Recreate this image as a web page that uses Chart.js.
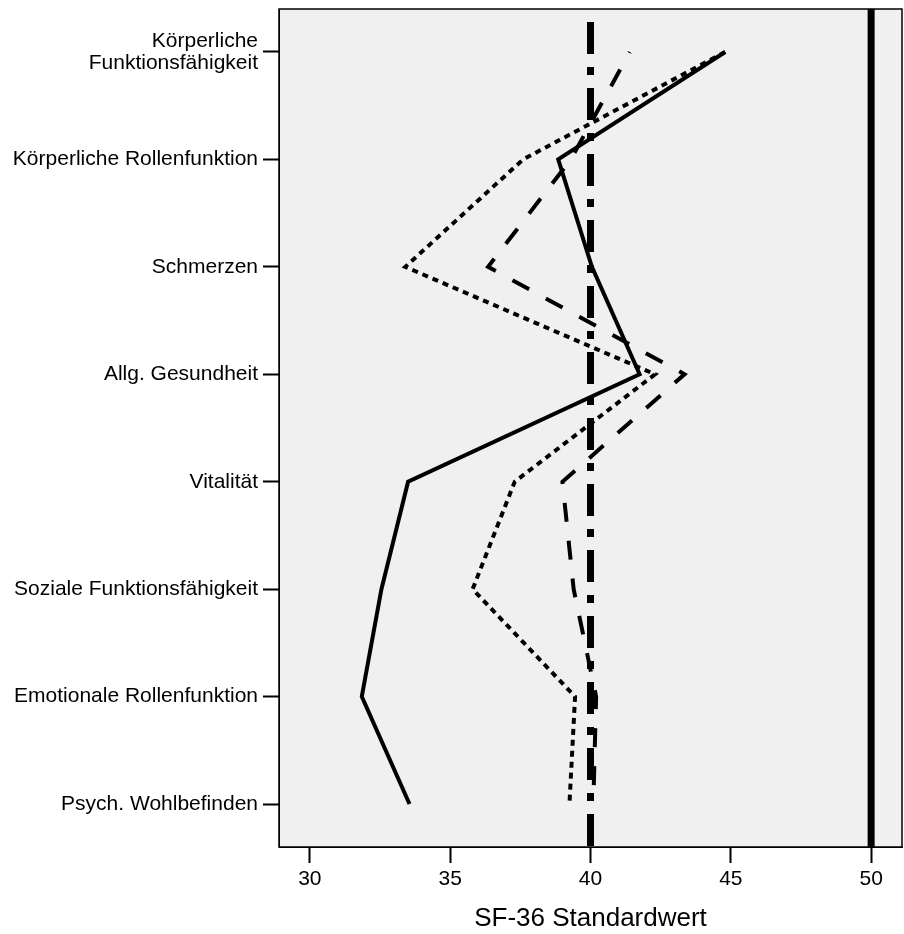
<!DOCTYPE html>
<html lang="de">
<head>
  <meta charset="UTF-8" />
  <title>SF-36 Profil</title>
  <script src="https://cdn.jsdelivr.net/npm/chart.js"></script>
  <style>
    html, body { margin: 0; padding: 0; background: #fff; }
    #wrap { width: 904px; height: 934px; }
  </style>
</head>
<body>
  <div id="wrap"><canvas id="chart" width="904" height="934"></canvas></div>

  <script>
    // SF-36 scales, top to bottom
    const categories = [
      'Körperliche\nFunktionsfähigkeit',
      'Körperliche Rollenfunktion',
      'Schmerzen',
      'Allg. Gesundheit',
      'Vitalität',
      'Soziale Funktionsfähigkeit',
      'Emotionale Rollenfunktion',
      'Psych. Wohlbefinden'
    ]

    // standard values
    const solidValues  = [44.8, 38.85, 40.05, 41.75, 33.5, 32.55, 31.85, 33.55]
    const dottedValues = [44.8, 37.6, 33.4, 42.3, 37.3, 35.8, 39.45, 39.25]
    const dashedValues = [41.4, 39.3, 36.35, 43.35, 39.0, 39.4, 40.2, 40.1]

    // reference lines
    const refDashDot = 40
    const refSolid = 50

    const xTicks = [30, 35, 40, 45, 50]
    const xMin = 28.9
    const xMax = 51.1
    const yMin = -0.4
    const yMax = 7.4

    const FONT = '"Liberation Sans", Arial, Helvetica, sans-serif'

    const toPoints = vals => vals.map((v, i) => ({ x: v, y: i }))
    const vertical = v => [{ x: v, y: yMin }, { x: v, y: yMax }]

    const plotFrame = {
      id: 'plotFrame',
      beforeDraw(chart) {
        const { ctx, chartArea: a } = chart
        ctx.save()
        ctx.fillStyle = '#f0f0f0'
        ctx.fillRect(a.left, a.top, a.right - a.left, a.bottom - a.top)
        ctx.restore()
      },
      afterDatasetsDraw(chart) {
        const { ctx, chartArea: a } = chart
        ctx.save()
        ctx.strokeStyle = '#000'
        ctx.lineWidth = 1.5
        ctx.strokeRect(a.left, a.top, a.right - a.left, a.bottom - a.top)
        ctx.restore()
      }
    }

    function noPad(scale) {
      scale.paddingTop = 0
      scale.paddingBottom = 0
      scale.paddingLeft = 0
      scale.paddingRight = 0
    }

    const lineBase = { showLine: true, pointRadius: 0, pointHoverRadius: 0, fill: false, tension: 0, borderColor: '#000', borderCapStyle: 'butt', borderJoinStyle: 'miter' }

    new Chart(document.getElementById('chart'), {
      type: 'scatter',
      data: {
        datasets: [
          { ...lineBase, label: 'Ref 40', data: vertical(refDashDot), borderWidth: 7, borderDash: [32, 13, 8, 13], borderDashOffset: 53, order: 1 },
          { ...lineBase, label: 'Ref 50', data: vertical(refSolid), borderWidth: 7, order: 1 },
          { ...lineBase, label: 'Gruppe 1', data: toPoints(solidValues), borderWidth: 4, order: 2 },
          { ...lineBase, label: 'Gruppe 2', data: toPoints(dottedValues), borderWidth: 4, borderDash: [6, 5], order: 2 },
          { ...lineBase, label: 'Gruppe 3', data: toPoints(dashedValues), borderWidth: 4, borderDash: [19, 19], borderDashOffset: 18, order: 2 }
        ]
      },
      options: {
        responsive: false,
        animation: false,
        events: [],
        layout: { padding: { top: 9, right: 2, left: 0, bottom: 0 } },
        plugins: { legend: { display: false }, tooltip: { enabled: false } },
        scales: {
          x: {
            type: 'linear',
            position: 'bottom',
            min: xMin,
            max: xMax,
            afterBuildTicks: s => { s.ticks = xTicks.map(v => ({ value: v })) },
            afterFit: s => { s.height = 87; noPad(s) },
            grid: { drawOnChartArea: false, drawTicks: true, tickLength: 16, tickColor: '#000', tickWidth: 2 },
            border: { display: true, color: '#000', width: 1 },
            ticks: { color: '#000', font: { family: FONT, size: 21 }, padding: 4, maxRotation: 0 },
            title: { display: true, text: 'SF-36 Standardwert', color: '#000', font: { family: FONT, size: 26 }, padding: { top: 0, bottom: 0 } }
          },
          y: {
            type: 'linear',
            reverse: true,
            min: yMin,
            max: yMax,
            afterBuildTicks: s => { s.ticks = categories.map((c, i) => ({ value: i })) },
            afterFit: s => { s.width = 279; noPad(s) },
            grid: { drawOnChartArea: false, drawTicks: true, tickLength: 16, tickColor: '#000', tickWidth: 2 },
            border: { display: true, color: '#000', width: 1 },
            ticks: {
              color: '#000',
              font: { family: FONT, size: 21, lineHeight: 1.05 },
              padding: 5,
              autoSkip: false,
              callback: v => {
                const label = categories[v]
                return label && label.includes('\n') ? label.split('\n') : label
              }
            }
          }
        }
      },
      plugins: [plotFrame]
    })
  </script>
</body>
</html>
